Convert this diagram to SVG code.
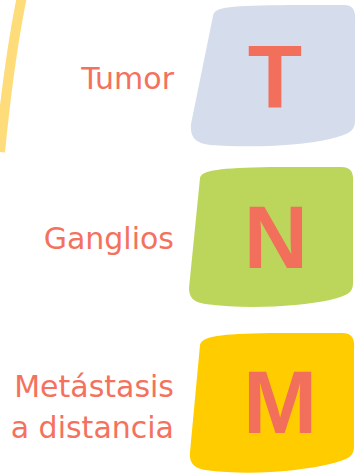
<svg xmlns="http://www.w3.org/2000/svg" width="364" height="476" viewBox="0 0 364 476">
<style>
.lbl{font-family:"DejaVu Sans",Verdana,sans-serif;font-size:30px;fill:#F4725D;text-anchor:end}
.big{font-family:"Liberation Sans",Arial,sans-serif;font-weight:bold;font-size:89px;fill:#F26F5B;text-anchor:middle}
</style>
<rect width="364" height="476" fill="#FFFFFF"/>
<path d="M22,-4 Q9,60 0,152" fill="none" stroke="#FFDC7A" stroke-width="10"/>
<g id="tumor">
<path d="M213,16 C215,6 230,6 290,5 L344,5 C353,5 356,10 355,22 L355,120 C355,131 350,134 330,139 C300,146 250,148 210,145 C195,143 190,137 191,124 Z" fill="#D5DDEC"/>
<text class="big" x="275" y="107">T</text>
<text class="lbl" x="174" y="89">Tumor</text>
</g>
<g id="ganglios">
<path d="M200,178 C202,170 220,168 270,167 L341,167 C351,167 354,172 353,184 L353,282 C353,292 350,295 330,300 C300,306 250,310 205,304 C193,302 189,297 189,288 Z" fill="#BCD65C"/>
<text class="big" x="276" y="268">N</text>
<text class="lbl" x="174" y="249">Ganglios</text>
</g>
<g id="metastasis">
<path d="M200,345 C202,336 220,334 270,333 L342,333 C352,333 355,338 354,350 L354,446 C354,456 350,459 330,464 C300,471 250,476 205,470 C193,468 189,462 190,452 Z" fill="#FFCC00"/>
<text class="big" x="280" y="433">M</text>
<text class="lbl" x="174" y="397">Metástasis</text>
<text class="lbl" x="174" y="438">a distancia</text>
</g>
</svg>
